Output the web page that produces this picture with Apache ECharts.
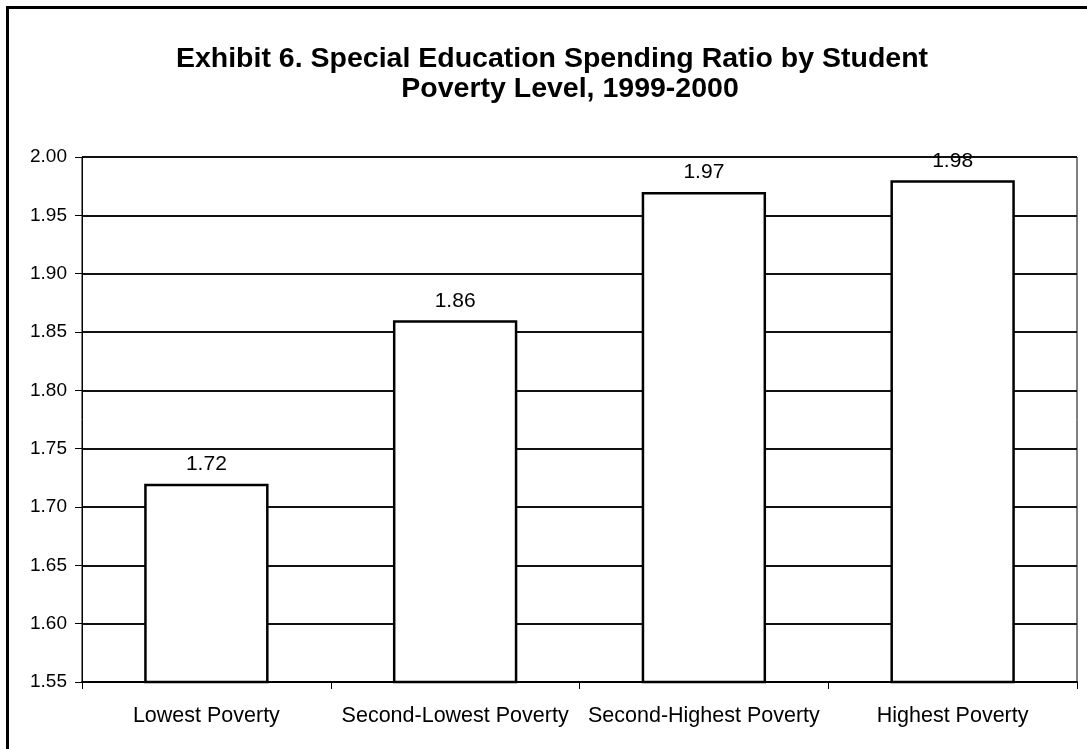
<!DOCTYPE html>
<html>
<head>
<meta charset="utf-8">
<script src="https://cdn.jsdelivr.net/npm/echarts@6/dist/echarts.min.js"></script>
<style>
  html, body { margin: 0; padding: 0; background: #ffffff; }
  #chart { width: 1087px; height: 749px; }
</style>
</head>
<body>
<div id="chart"></div>
<script>
  // 数据
  var categories = ['Lowest Poverty', 'Second-Lowest Poverty', 'Second-Highest Poverty', 'Highest Poverty'];
  var ratios = [1.72, 1.86, 1.97, 1.98];
  var titleLines = ['Exhibit 6. Special Education Spending Ratio by Student', 'Poverty Level, 1999-2000'];

  var font = '"Liberation Sans", Arial, sans-serif';
  var myChart = echarts.init(document.getElementById('chart'));

  myChart.setOption({
    animation: false,
    backgroundColor: '#ffffff',
    title: [{
      text: titleLines[0],
      left: 547,
      top: 40,
      textAlign: 'center',
      textStyle: { fontFamily: font, fontSize: 28.5, fontWeight: 'bold', color: '#000' }
    }, {
      text: titleLines[1],
      left: 565,
      top: 70,
      textAlign: 'center',
      textStyle: { fontFamily: font, fontSize: 28.5, fontWeight: 'bold', color: '#000' }
    }],
    graphic: [{
      // 外边框
      type: 'rect',
      shape: { x: 7.5, y: 7.5, width: 1200, height: 900 },
      style: { fill: 'none', stroke: '#000', lineWidth: 3 },
      silent: true
    }],
    grid: {
      left: 82,
      right: 10,
      top: 157,
      bottom: 67,
      show: true,
      borderColor: '#000',
      borderWidth: 1
    },
    xAxis: {
      type: 'category',
      data: categories,
      axisLine: { lineStyle: { color: '#000', width: 2 } },
      axisTick: { show: true, length: 7, lineStyle: { color: '#000', width: 1 } },
      axisLabel: {
        margin: 23,
        interval: 0,
        fontFamily: font,
        fontSize: 21.5,
        color: '#000'
      }
    },
    yAxis: {
      type: 'value',
      min: 1.55,
      max: 2.0,
      interval: 0.05,
      axisLine: { show: true, lineStyle: { color: '#000', width: 1 } },
      axisTick: { show: true, length: 7, lineStyle: { color: '#000', width: 1 } },
      axisLabel: {
        margin: 15,
        fontFamily: font,
        fontSize: 19,
        color: '#000',
        formatter: function (v) { return v.toFixed(2); }
      },
      splitLine: { lineStyle: { color: '#111', width: 2 } }
    },
    series: [{
      name: 'ratio',
      type: 'bar',
      barWidth: '50%',
      data: ratios,
      itemStyle: {
        color: '#ffffff',
        borderColor: '#000',
        borderWidth: 2.5
      },
      label: {
        show: true,
        position: 'top',
        distance: 9,
        fontFamily: font,
        fontSize: 21,
        color: '#000',
        formatter: function (p) { return p.value.toFixed(2); }
      }
    }]
  });
</script>
</body>
</html>
